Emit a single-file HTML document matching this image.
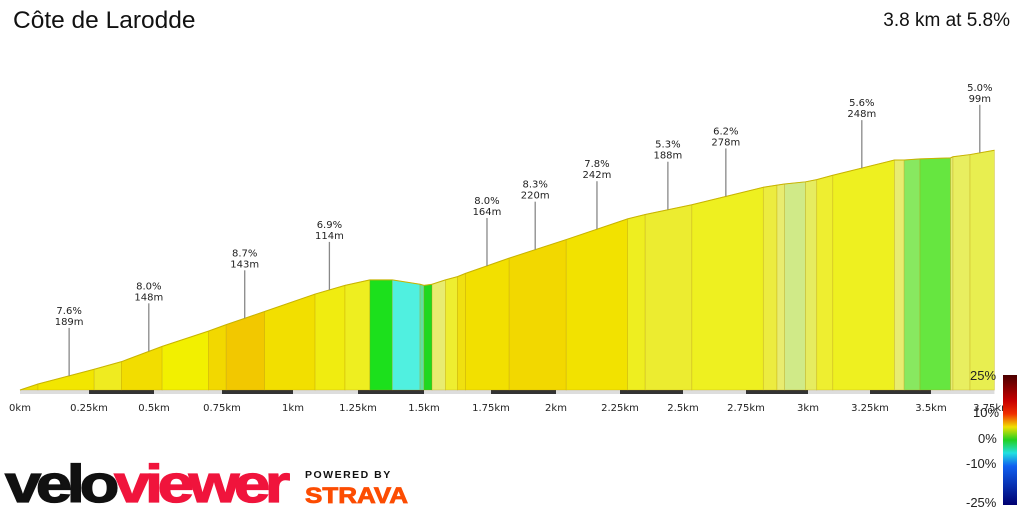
<!DOCTYPE html>
<html><head><meta charset="utf-8"><style>
body{margin:0;background:#fff;width:1024px;height:512px;overflow:hidden;font-family:"Liberation Sans",sans-serif}
</style></head><body>
<svg width="1024" height="512" xmlns="http://www.w3.org/2000/svg">
<defs>
<linearGradient id="lg" x1="0" y1="0" x2="0" y2="1">
<stop offset="0" stop-color="#4a0000"/><stop offset="0.2" stop-color="#c80000"/><stop offset="0.3" stop-color="#f03000"/><stop offset="0.4" stop-color="#f0e000"/><stop offset="0.5" stop-color="#20d020"/><stop offset="0.6" stop-color="#20e0e0"/><stop offset="0.7" stop-color="#1060f0"/><stop offset="1" stop-color="#000070"/>
</linearGradient>
</defs>
<text x="13" y="28" font-size="24.5" fill="#111">Côte de Larodde</text>
<text x="1010" y="26" font-size="19" fill="#111" text-anchor="end">3.8 km at 5.8%</text>
<g id="road"></g>
<g id="prof"></g>
<g id="ann"></g>
<g id="ticks"></g>
<rect x="1003" y="375" width="14" height="130" fill="url(#lg)"/>
<g font-size="13" fill="#222">
<text x="970" y="380">25%</text><text x="973" y="417">10%</text><text x="978" y="443">0%</text><text x="966" y="468">-10%</text><text x="966" y="507">-25%</text>
</g>
<g>
<text x="5" y="502" font-size="62" font-weight="bold" letter-spacing="-5" transform="translate(5 502) scale(1 0.85) translate(-5 -502)" textLength="280" lengthAdjust="spacingAndGlyphs" stroke-width="1.5"><tspan fill="#111" stroke="#111">velo</tspan><tspan fill="#f0143c" stroke="#f0143c">viewer</tspan></text>
</g>
<text x="305" y="478" font-size="10.5" font-weight="bold" letter-spacing="1.5" fill="#111">POWERED BY</text>
<text x="305" y="503" font-size="22" font-weight="bold" fill="#fc4c02" stroke="#fc4c02" stroke-width="0.8" textLength="103" lengthAdjust="spacingAndGlyphs">STRAVA</text>
</svg>
<script>
const distKm=[0,0.065,0.27,0.375,0.53,0.70,0.765,0.90,1.085,1.20,1.295,1.38,1.485,1.50,1.53,1.58,1.625,1.655,1.82,2.04,2.28,2.35,2.535,2.82,2.875,2.905,2.99,3.035,3.10,3.35,3.39,3.455,3.58,3.59,3.66,3.76];
const elevM=[0,5.5,19,26,40,54,60,72,88,96,101,101,97,96,97,101,104,107,121,138,157,161,170,186,188,189,191,193,197,211,211,212,213,214,216,220];
const segColors=["#eee000","#f2e600","#efeb20","#f2dd00","#f2f000","#f2d800","#f2c800","#f2df00","#f0ec10","#eeee20","#1ce01c","#50f0e0","#60e0a0","#20d820","#e8ec70","#eeee30","#f0e010","#f2e000","#f2d800","#f2e200","#eeee20","#ecec30","#eef020","#ecec40","#e8ec70","#d0ea88","#e6ec60","#eeee30","#eef020","#e8ec70","#88e860","#66e640","#e4ec70","#e8ee60","#e8ee50"];
const annKm=[0.178,0.48,0.83,1.14,1.735,1.92,2.16,2.44,2.67,3.217,3.70];
const annGrade=["7.6%","8.0%","8.7%","6.9%","8.0%","8.3%","7.8%","5.3%","6.2%","5.6%","5.0%"];
const annLen=["189m","148m","143m","114m","164m","220m","242m","188m","278m","248m","99m"];
const tickKm=[0,0.25,0.5,0.75,1,1.25,1.5,1.75,2,2.25,2.5,2.75,3,3.25,3.5,3.75];
const tickLabels=["0km","0.25km","0.5km","0.75km","1km","1.25km","1.5km","1.75km","2km","2.25km","2.5km","2.75km","3km","3.25km","3.5km","3.75km"];
const roadDark=[[0.25,0.5],[0.75,1],[1.25,1.5],[1.75,2],[2.25,2.5],[2.75,3],[3.25,3.5]];

const knots=[20,89,154,222,293,358,424,491,556,620,683,746,808,870,931,992];
function xs(km){let i=Math.min(Math.floor(km/0.25),knots.length-2);i=Math.max(i,0);return knots[i]+(km/0.25-i)*(knots[i+1]-knots[i]);}
const base=390;
function ys(e){return base-e*1.09;}
function elevAt(km){for(let i=0;i<distKm.length-1;i++){if(km<=distKm[i+1]){const t=(km-distKm[i])/(distKm[i+1]-distKm[i]);return elevM[i]+t*(elevM[i+1]-elevM[i]);}}return elevM[elevM.length-1];}
const NS="http://www.w3.org/2000/svg";
const FF='"DejaVu Sans",sans-serif';
function mk(t,a,p){const e=document.createElementNS(NS,t);for(const k in a)e.setAttribute(k,a[k]);p.appendChild(e);return e;}
const road=document.getElementById('road');
let r=mk('rect',{x:xs(0),y:base,width:xs(distKm[distKm.length-1])-xs(0),height:4,fill:'#ddd'},road);


roadDark.forEach(d=>{const e=mk('rect',{x:xs(d[0]),y:base,width:xs(d[1])-xs(d[0]),height:4,fill:'#333'},road);

});
const prof=document.getElementById('prof');
for(let i=0;i<segColors.length;i++){
const x0=xs(distKm[i]),x1=xs(distKm[i+1]);
const p=mk('polygon',{points:`${x0},${base} ${x0},${ys(elevM[i])} ${x1},${ys(elevM[i+1])} ${x1},${base}`,fill:segColors[i],stroke:'rgba(180,150,0,0.35)','stroke-width':0.8},prof);


}
let pts=distKm.map((d,i)=>xs(d)+','+ys(elevM[i])).join(' ');
const ol=mk('polyline',{points:pts,fill:'none',stroke:'#c8b400','stroke-width':1},prof);


const ann=document.getElementById('ann');
annKm.forEach((k,i)=>{const x=xs(k),y=ys(elevAt(k));
const l=mk('line',{x1:x,y1:y-48,x2:x,y2:y,stroke:'#888','stroke-width':1.3},ann);


const t1=mk('text',{x:x,y:y-62,'font-size':10,'font-family':FF,'text-anchor':'middle',fill:'#222'},ann);t1.textContent=annGrade[i];


const t2=mk('text',{x:x,y:y-51,'font-size':10,'font-family':FF,'text-anchor':'middle',fill:'#222'},ann);t2.textContent=annLen[i];

});
const tk=document.getElementById('ticks');
tickKm.forEach((k,i)=>{const t=mk('text',{x:xs(k),y:411,'font-size':10,'font-family':FF,'text-anchor':'middle',fill:'#222'},tk);t.textContent=tickLabels[i];

});
</script>
</body></html>
